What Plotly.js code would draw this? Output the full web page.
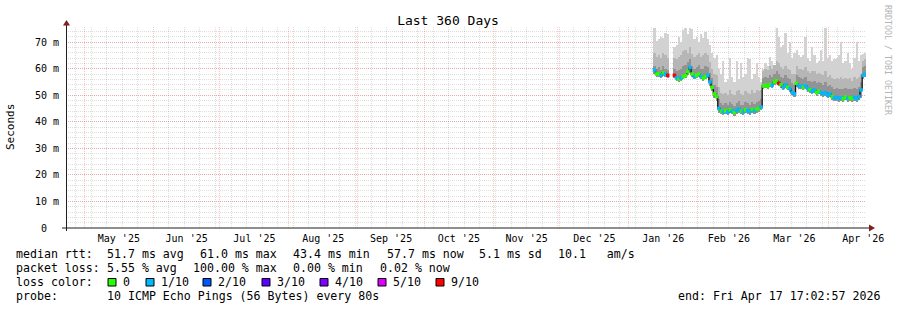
<!DOCTYPE html>
<html><head><meta charset="utf-8">
<script src="https://cdn.plot.ly/plotly-3.0.1.min.js"></script>
<style>html,body{margin:0;padding:0;background:#fff;}#chart{width:897px;height:310px;}</style>
</head><body><div id="chart"></div>
<script>
// ---------- DATA ----------
const days = [
 '2026-01-12','2026-01-13','2026-01-14','2026-01-15','2026-01-16','2026-01-17','2026-01-18','2026-01-19','2026-01-20','2026-01-21',
 '2026-01-22','2026-01-23','2026-01-24','2026-01-25','2026-01-26','2026-01-27','2026-01-28','2026-01-29','2026-01-30','2026-01-31',
 '2026-02-01','2026-02-02','2026-02-03','2026-02-04','2026-02-05','2026-02-06','2026-02-07','2026-02-08','2026-02-09','2026-02-10',
 '2026-02-11','2026-02-12','2026-02-13','2026-02-14','2026-02-15','2026-02-16','2026-02-17','2026-02-18','2026-02-19','2026-02-20',
 '2026-02-21','2026-02-22','2026-02-23','2026-02-24','2026-02-25','2026-02-26','2026-02-27','2026-02-28',
 '2026-03-01','2026-03-02','2026-03-03','2026-03-04','2026-03-05','2026-03-06','2026-03-07','2026-03-08','2026-03-09','2026-03-10',
 '2026-03-11','2026-03-12','2026-03-13','2026-03-14','2026-03-15','2026-03-16','2026-03-17','2026-03-18','2026-03-19','2026-03-20',
 '2026-03-21','2026-03-22','2026-03-23','2026-03-24','2026-03-25','2026-03-26','2026-03-27','2026-03-28','2026-03-29','2026-03-30','2026-03-31',
 '2026-04-01','2026-04-02','2026-04-03','2026-04-04','2026-04-05','2026-04-06','2026-04-07','2026-04-08','2026-04-09','2026-04-10',
 '2026-04-11','2026-04-12','2026-04-13','2026-04-14','2026-04-15','2026-04-16','2026-04-17'
];
// median rtt (ms)
const medianMs = [
 59.5,58,58,57.5,58.5,58,57.5, null,null,
 57.5,56.5,56,56.5,57,57.5,59,60.5,58,57,57.5,
 58,57,56.5,57,57.5,55,53,50.5,49.5,45,44,43.8,44.2,43.6,44.5,44,43.5,44.3,44.8,44,43.7,44.5,44.2,43.9,44.6,44.1,44.8,45,
 45.5,53.5,53.8,53.5,54,53.8,55,55.5,54.5,54,53,54,53,52.5,51,50.5,54.5,53.5,53.5,53,53.5,52.5,52,51.5,52,51,51.5,51,50.5,51,50,
 50.5,49.5,49,49.2,48.8,49,48.7,49.3,48.8,49,48.8,49.2,48.7,49.5,52,57.5,58
];
// smoke: fastest ping (ms)
const minMs = [
 58,56.8,57,56.5,57.2,57,56.5, null,null,
 56.5,55.5,55,55.5,56,56.5,57.5,58.5,57,56,56.5,
 57,56,55.5,56,56.5,53.5,51.5,49,48,43.5,42.8,42.5,43,42.4,43.2,42.8,42.3,43,43.5,42.8,42.5,43.2,43,42.7,43.3,42.9,43.5,43.8,
 44.3,52.5,52.8,52.4,53,52.8,53.8,54.3,53.4,52.8,52,52.8,51.8,51.3,50,49.4,53.2,52.3,52.4,51.8,52.3,51.4,50.8,50.3,50.8,49.8,50.3,49.8,49.4,49.8,48.8,
 49.3,48.3,47.8,48,47.6,47.8,47.5,48.1,47.6,47.8,47.6,48,47.5,48.3,49,56.3,56.8
];
// smoke: inner (dark) band top (ms)
const innerMs = [
 61,60,60.5,59.5,61,60,59.5, null,null,
 60,59,59.5,60,61,61.5,62.5,63.5,61,60,60.5,
 61.5,60,60,61,60.5,58.5,56.5,54,53,48.5,47,46.5,47,46.2,47.5,46.8,46,47.2,47.8,46.5,46.2,47.3,47,46.5,47.4,46.8,47.6,47.8,
 48.5,56.5,57,56.5,57.5,57,58,59,58,57,56.5,57.5,56.5,56,54.5,54,57.5,57,56.5,56,57,55.5,55.5,55,55.5,54.5,55,54.5,54,55,53.5,
 54,53,52.5,52.8,52.3,52.5,52.2,52.8,52.3,52.5,52.2,52.8,52.2,53,55,60.5,61
];
// smoke: middle band top (ms)
const middleMs = [
 66,64.5,65,64,66,65,64, null,null,
 64,63.5,64.5,65,66.5,67,66,68,65.5,64.5,65,
 66,64.5,65,66,65,62.5,60,58,57.5,53,51,50.5,51,50,52,50.5,50,51.5,52,50.5,50.2,51.5,51,50.5,51.8,50.8,52,51.5,
 52,59,60,59.5,61,60,61.5,63,62,60.5,60,61,60,59.5,58,58,61,60,60,59.5,60.5,59,58.5,59,59,58,58.5,58,57.5,59,57,
 57.5,56.5,56,56.5,56,57,56,56.5,56,56.5,55.5,57,56,57,58,63,63.5
];
// smoke: slowest ping (ms)
const maxMs = [
 75.5,70.5,71,72,71.5,73.5,73, null,null,
 68,69,72,70,74.5,75.5,73,75.5,75,71,72,
 70,73,71.5,74,71,69,66,64,65,60,58,63,55,56,64,57,55,63,56,62,57,58,64,63.5,56,58,62,57,
 55,60,62,61,64.5,63,61,75.5,72,68,69,73.5,66,70,64,66,67,65,64.5,65,72,64,63,68,65,62,63,67,63,75.5,64,
 65,63,63.5,64,65,70,62,63,66,62,60,64,70,63,65,65.5,66
];
// lost pings out of 10
const lossTenths = [
 1,0,0,1,0,1,9, 0,0,
 9,1,0,1,0,0,0,1,0,1,0,
 0,1,0,0,1,1,0,0,0,1,0,1,0,1,0,1,0,1,1,0,1,0,1,1,0,1,0,0,
 1,0,0,0,0,1,0,0,9,0,1,1,0,1,1,1,0,1,1,0,1,1,0,1,1,0,0,1,1,1,1,
 1,0,1,1,1,1,0,0,1,0,0,1,1,1,1,1,1
];
const lossLevels = [0,1,2,3,4,5,9];
const lossLabels = ['0','1/10','2/10','3/10','4/10','5/10','9/10'];
const lossColors = ['#26ff00','#00b8ff','#0059ff','#5e00ff','#7e00ff','#dd00ff','#ff0000'];
const yTickVals = [0,10,20,30,40,50,60,70];
const yTickText = ['0\u00a0\u00a0','10 m','20 m','30 m','40 m','50 m','60 m','70 m'];
const rttStats = ['51.7 ms avg','61.0 ms max','43.4 ms min','57.7 ms now','5.1 ms sd','10.1   am/s'];
const lossStats = ['5.55 % avg','100.00 % max','0.00 % min','0.02 % now'];
const probeText = '10 ICMP Echo Pings (56 Bytes) every 80s';
const endText = 'end: Fri Apr 17 17:02:57 2026';
const rangeStart = '2025-04-22 17:02:57', rangeEnd = '2026-04-17 17:02:57';

// ---------- LAYOUT HELPERS ----------
const DAY = 86400000;
const L = 66, T = 27, W = 800, H = 201;
const px = x => (x - L) / W;
const py = y => (T + H - y) / H;
const MONO = 'DejaVu Sans Mono';

function band(lo, hi, color) {
  return {type:'bar', x: days, base: lo,
    y: hi.map((v,i) => (v == null || lo[i] == null) ? null : v - lo[i]),
    xperiod: DAY, xperiodalignment: 'middle', width: DAY,
    marker: {color: color, line: {width: 0}}, hoverinfo: 'skip', showlegend: false};
}
const traces = [
  band(minMs, maxMs, '#d2d2d2'),
  band(minMs, middleMs, '#b6b6b6'),
  band(minMs, innerMs, '#939393'),
  {type:'scatter', mode:'lines', x: days, y: medianMs, xperiod: DAY, xperiodalignment:'middle',
   line:{shape:'hvh', color:'#111', width:1.3}, connectgaps:false, hoverinfo:'skip', showlegend:false},
  {type:'scatter', mode:'markers', x: days, y: medianMs, xperiod: DAY, xperiodalignment:'middle',
   marker:{symbol:'square', size:3.5, color: lossTenths.map(l => lossColors[lossLevels.indexOf(l)]), line:{width:0}},
   hoverinfo:'skip', showlegend:false}
];

const ann = [];
const shapes = [];
function txt(x, y, s, opt) {
  ann.push(Object.assign({xref:'paper', yref:'paper', x: px(x), y: py(y), text: s, showarrow:false,
    xanchor:'left', yanchor:'middle', font:{family: MONO, size: 11.6, color:'#000'}, borderpad:0}, opt || {}));
}
// legend rows
txt(15, 254, 'median rtt:');
[106, 199, 292, 386, 478, 557].forEach((x,i) => txt(x, 254, rttStats[i]));
txt(15, 268, 'packet loss:');
[106, 192, 292, 379].forEach((x,i) => txt(x, 268, lossStats[i]));
txt(15, 282, 'loss color:');
const sqX = [108, 146, 203, 262, 320, 378, 436];
const lbX = [122, 160, 217, 276, 334, 392, 450];
lossColors.forEach((c,i) => {
  shapes.push({type:'rect', xref:'paper', yref:'paper', x0: px(sqX[i]), x1: px(sqX[i]+8), y0: py(286), y1: py(278.5),
    fillcolor: c, line:{color:'#000', width:1}});
  txt(lbX[i], 282, lossLabels[i]);
});
txt(15, 296, 'probe:');
txt(106, 296, probeText);
txt(881, 296, endText, {xanchor:'right'});
// axis title, watermark
txt(11, 127, 'Seconds', {xanchor:'center', textangle:-90, font:{family: MONO, size: 11, color:'#000'}});
txt(888, 60, 'RRDTOOL / TOBI OETIKER', {xanchor:'center', textangle:90, font:{family: MONO, size: 8.3, color:'#b4b4b4'}});

// axes with arrows
shapes.push({type:'line', xref:'paper', yref:'paper', x0: px(62), x1: px(870), y0: py(228), y1: py(228), line:{color:'#1f1f1f', width:1}});
shapes.push({type:'line', xref:'paper', yref:'paper', x0: px(66.5), x1: px(66.5), y0: py(231), y1: py(24), line:{color:'#1f1f1f', width:1}});
shapes.push({type:'path', xref:'paper', yref:'paper', path:
  `M ${px(869)} ${py(224.5)} L ${px(875)} ${py(228)} L ${px(869)} ${py(231.5)} Z`, fillcolor:'#7f1f1f', line:{width:0}});
shapes.push({type:'path', xref:'paper', yref:'paper', path:
  `M ${px(63)} ${py(25.5)} L ${px(66.5)} ${py(20)} L ${px(70)} ${py(25.5)} Z`, fillcolor:'#7f1f1f', line:{width:0}});

const layout = {
  width: 897, height: 310, autosize: false,
  margin: {l: L, r: 897 - L - W, t: T, b: 310 - T - H, pad: 0},
  paper_bgcolor: '#ffffff', plot_bgcolor: '#ffffff',
  barmode: 'overlay', bargap: 0, showlegend: false,
  title: {text: 'Last 360 Days', font:{family: MONO, size: 13, color:'#000'},
          x: 448/897, xanchor:'center', y: 1 - 20/310, yanchor:'middle'},
  xaxis: {type:'date', range:[rangeStart, rangeEnd], dtick:'M1', tick0:'2025-05-01',
    tickformat:"%b '%y", ticklabelmode:'period', ticks:'outside', ticklen:1, tickcolor:'rgba(0,0,0,0)',
    tickfont:{family: MONO, size: 10, color:'#000'},
    showgrid:true, gridcolor:'rgba(255,40,40,0.28)', griddash:'1px,1px', gridwidth:1,
    minor:{dtick: 7*DAY, tick0:'2025-04-27', showgrid:true, gridcolor:'rgba(0,0,0,0.13)', griddash:'1px,1px', gridwidth:1},
    zeroline:false, showline:false, fixedrange:true},
  yaxis: {range:[0, 75.7], tickmode:'array', tickvals: yTickVals, ticktext: yTickText,
    ticks:'outside', ticklen:4, tickcolor:'rgba(0,0,0,0)',
    tickfont:{family: MONO, size: 10, color:'#000'},
    showgrid:true, gridcolor:'rgba(255,40,40,0.28)', griddash:'1px,1px', gridwidth:1,
    minor:{dtick: 2, tick0: 0, showgrid:true, gridcolor:'rgba(0,0,0,0.13)', griddash:'1px,1px', gridwidth:1},
    zeroline:false, showline:false, fixedrange:true},
  annotations: ann, shapes: shapes
};
Plotly.newPlot('chart', traces, layout, {staticPlot:true, displayModeBar:false});
</script></body></html>
